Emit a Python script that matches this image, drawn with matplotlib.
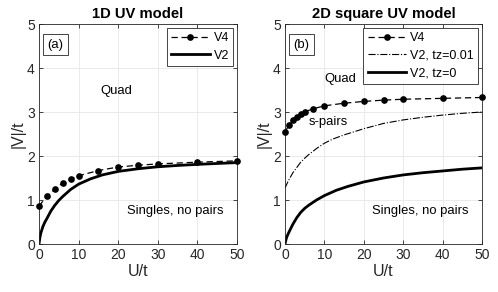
import matplotlib
matplotlib.use("Agg")
import matplotlib.pyplot as plt

plt.rcParams["font.family"] = ["Liberation Sans", "DejaVu Sans"]

# 1D UV model
u1_v4 = [0, 2, 4, 6, 8, 10, 15, 20, 25, 30, 40, 50]
v1_v4 = [0.86, 1.09, 1.25, 1.39, 1.48, 1.55, 1.67, 1.75, 1.79, 1.82, 1.86, 1.89]
u1_v2 = [0, 0.25, 0.5, 1, 1.5, 2, 3, 4, 5, 6, 8, 10, 13, 16, 20, 25, 30, 35, 40, 45, 50]
v1_v2 = [0, 0.16, 0.26, 0.4, 0.5, 0.58, 0.75, 0.88, 0.99, 1.08, 1.24, 1.36, 1.48, 1.57, 1.65, 1.71, 1.755, 1.785, 1.81, 1.83, 1.85]

# 2D square UV model
u2_v4 = [0, 1, 2, 3, 4, 5, 7, 10, 15, 20, 25, 30, 40, 50]
v2_v4 = [2.55, 2.70, 2.81, 2.89, 2.95, 3.0, 3.07, 3.14, 3.2, 3.24, 3.27, 3.29, 3.31, 3.33]
u2_tz = [0, 0.5, 1, 2, 3, 4, 5, 6, 8, 10, 12, 15, 20, 25, 30, 35, 40, 45, 50]
v2_tz = [1.27, 1.37, 1.46, 1.62, 1.74, 1.86, 1.95, 2.03, 2.17, 2.29, 2.38, 2.48, 2.62, 2.74, 2.82, 2.88, 2.93, 2.97, 3.0]
u2_t0 = [0, 0.25, 0.5, 1, 1.5, 2, 3, 4, 5, 6, 8, 10, 13, 16, 20, 25, 30, 35, 40, 45, 50]
v2_t0 = [0, 0.1, 0.17, 0.27, 0.36, 0.45, 0.6, 0.72, 0.81, 0.88, 1.0, 1.1, 1.22, 1.31, 1.41, 1.5, 1.57, 1.62, 1.66, 1.7, 1.73]

xticks = [0, 10, 20, 30, 40, 50]
yticks = [0, 1, 2, 3, 4, 5]

TXT = "#262626"
fig = plt.figure(figsize=(4.98, 2.92), dpi=100)
ax1 = fig.add_axes([39 / 498, 48 / 292, 198 / 498, 220 / 292])
ax2 = fig.add_axes([285 / 498, 48 / 292, 197 / 498, 220 / 292])

for ax in (ax1, ax2):
    ax.set_xlim(0, 50)
    ax.set_ylim(0, 5)
    ax.set_xticks(xticks)
    ax.set_yticks(yticks)
    ax.grid(True, color="#e6e6e6", linewidth=0.6)
    ax.set_axisbelow(True)
    ax.tick_params(direction="in", length=3, width=0.6, colors=TXT, labelsize=10,
                   top=True, right=True, pad=3)
    for s in ax.spines.values():
        s.set_color(TXT)
        s.set_linewidth(0.6)
    ax.set_xlabel("U/t", fontsize=11.5, color=TXT, labelpad=1)
    ax.set_ylabel("|V|/t", fontsize=11.5, color=TXT, labelpad=1)

leg_kw = dict(loc="upper right", fontsize=9, frameon=True, fancybox=False, edgecolor=TXT,
              framealpha=1, handlelength=3.1, borderpad=0.35, labelspacing=0.45,
              handletextpad=0.3, borderaxespad=0.3)
box_kw = dict(boxstyle="square,pad=0.35", fc="white", ec=TXT, lw=0.6)

ax1.plot(u1_v4, v1_v4, "k--", marker="o", markersize=3.8, linewidth=0.9, dashes=(5, 3),
         clip_on=False, zorder=4, label="V4")
ax1.plot(u1_v2, v1_v2, "k-", linewidth=2, label="V2")
ax1.set_title("1D UV model", fontsize=10.6, fontweight="bold", pad=4)
ax1.text(0.39, 0.697, "Quad", transform=ax1.transAxes, ha="center", va="center", fontsize=9.4)
ax1.text(0.687, 0.15, "Singles, no pairs", transform=ax1.transAxes, ha="center", va="center", fontsize=9.4)
ax1.text(0.083, 0.905, "(a)", transform=ax1.transAxes, ha="center", va="center", fontsize=9.4, bbox=box_kw)
ax1.legend(**leg_kw).get_frame().set_linewidth(0.6)

ax2.plot(u2_v4, v2_v4, "k--", marker="o", markersize=3.8, linewidth=0.9, dashes=(5, 3),
         clip_on=False, zorder=4, label="V4")
ax2.plot(u2_tz, v2_tz, "k-.", linewidth=0.8, label="V2, tz=0.01")
ax2.plot(u2_t0, v2_t0, "k-", linewidth=2, label="V2, tz=0")
ax2.set_title("2D square UV model", fontsize=10.6, fontweight="bold", pad=4)
ax2.text(0.279, 0.75, "Quad", transform=ax2.transAxes, ha="center", va="center", fontsize=9.4)
ax2.text(0.218, 0.556, "s-pairs", transform=ax2.transAxes, ha="center", va="center", fontsize=9.4)
ax2.text(0.685, 0.15, "Singles, no pairs", transform=ax2.transAxes, ha="center", va="center", fontsize=9.4)
ax2.text(0.083, 0.905, "(b)", transform=ax2.transAxes, ha="center", va="center", fontsize=9.4, bbox=box_kw)
ax2.legend(**leg_kw).get_frame().set_linewidth(0.6)

fig.savefig("out.png", dpi=100)
